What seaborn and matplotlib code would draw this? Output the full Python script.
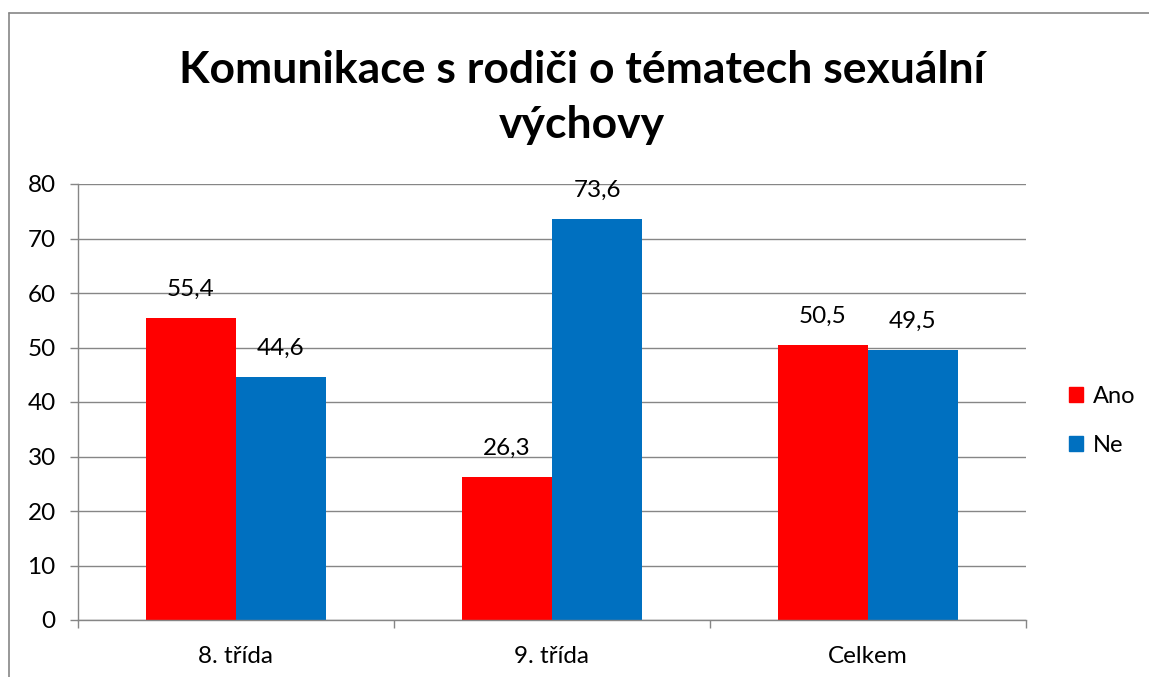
import matplotlib
matplotlib.use("Agg")
import matplotlib.pyplot as plt
import matplotlib.patches as mpatches
from matplotlib.lines import Line2D
import seaborn as sns
import pandas as pd

# data
categories = ["8. třída", "9. třída", "Celkem"]
ano = [55.4, 26.3, 50.5]
ne = [44.6, 73.6, 49.5]
series = ["Ano", "Ne"]
colors = {"Ano": "#FF0000", "Ne": "#0070C0"}

df = pd.DataFrame({
    "trida": categories * 2,
    "odpoved": ["Ano"] * 3 + ["Ne"] * 3,
    "hodnota": ano + ne,
})

sns.set_theme(style="white")
plt.rcParams['font.family'] = ['Lato', 'DejaVu Sans']
plt.rcParams['text.color'] = 'black'
plt.rcParams['xtick.color'] = 'black'
plt.rcParams['ytick.color'] = 'black'

W, H = 1149, 677
fig = plt.figure(figsize=(W / 100, H / 100), dpi=100)
ax = fig.add_axes([78 / W, 1 - 620 / H, (1026 - 78) / W, (620 - 184) / H])

sns.barplot(data=df, x="trida", y="hodnota", hue="odpoved", order=categories,
            hue_order=series, palette=colors, width=0.57, gap=0,
            saturation=1, linewidth=0, ax=ax, legend=False)

ax.set_ylim(0, 80)
ax.set_xlim(-0.5, 2.5)
ax.set_yticks(range(0, 81, 10))
ax.yaxis.grid(True, color="#868686", linewidth=1)
ax.set_axisbelow(True)
ax.set_xlabel("")
ax.set_ylabel("")

for s in ["top", "right"]:
    ax.spines[s].set_visible(False)
for s in ["left", "bottom"]:
    ax.spines[s].set_color("#868686")
    ax.spines[s].set_linewidth(1)

ax.tick_params(axis="y", length=6, width=1, color="#868686", labelcolor="black",
               labelsize=17.5, pad=10, direction="out", left=True)
ax.tick_params(axis="x", which="major", length=0, labelsize=17.5, labelcolor="black", pad=19)
ax.set_xticks([-0.5, 0.5, 1.5, 2.5], minor=True)
ax.tick_params(axis="x", which="minor", length=6, width=1, color="#868686",
               direction="out", bottom=True)

# data labels
for cont in ax.containers:
    labels = [f"{v:.1f}".replace(".", ",") for v in cont.datavalues]
    ax.bar_label(cont, labels=labels, padding=13, fontsize=17.5, color="black")

# legend
handles = [mpatches.Patch(color=colors[s], label=s) for s in series]
fig.legend(handles=handles, loc="center left", bbox_to_anchor=(1048 / W, 1 - 421 / H),
           frameon=False, fontsize=17, handlelength=0.6, handleheight=0.6,
           handletextpad=0.4, labelspacing=1.2, labelcolor="black")

fig.suptitle("Komunikace s rodiči o tématech sexuální\nvýchovy", x=582 / W, y=1 - 50 / H,
             fontsize=32, fontweight="bold", va="top", linespacing=1.45, color="black")

# outer chart border (left and top visible)
fig.add_artist(Line2D([9 / W, 9 / W], [0, 1 - 13 / H], color="#868686", lw=1.2,
                      transform=fig.transFigure))
fig.add_artist(Line2D([9 / W, 1], [1 - 13 / H, 1 - 13 / H], color="#868686", lw=1.2,
                      transform=fig.transFigure))

fig.savefig("out.png", dpi=100)
